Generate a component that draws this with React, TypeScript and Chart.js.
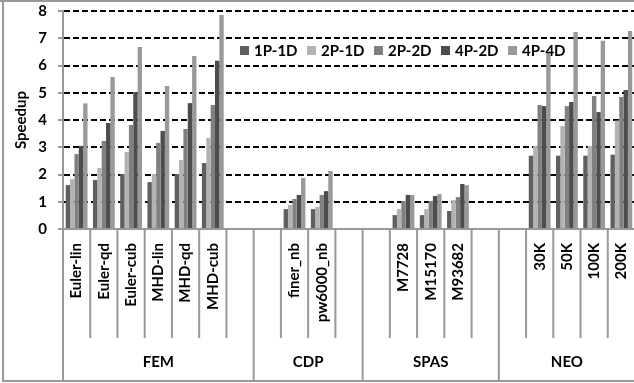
import React, { useEffect, useRef } from 'react';
import { Chart, registerables } from 'chart.js';

Chart.register(...registerables);

const FONT = 'Lato, "Open Sans", sans-serif';

// Benchmark cases along the x axis; empty strings are spacer slots between suites.
const categories = [
  'Euler-lin', 'Euler-qd', 'Euler-cub', 'MHD-lin', 'MHD-qd', 'MHD-cub', '',
  '', 'finer_nb', 'pw6000_nb', '',
  '', 'M7728', 'M15170', 'M93682', '',
  '', '30K', '50K', '100K', '200K',
];

// Suites and how many slots each spans.
const groupNames = ['FEM', 'CDP', 'SPAS', 'NEO'];
const groupSizes = [7, 4, 5, 5];

const seriesNames = ['1P-1D', '2P-1D', '2P-2D', '4P-2D', '4P-4D'];
const seriesColors = ['#5f5f5f', '#b3b3b3', '#808080', '#4d4d4d', '#999999'];

const n = null;
const speedup1P1D = [1.61, 1.80, 2.02, 1.72, 2.02, 2.42, n, n, 0.73, 0.73, n, n, 0.51, 0.51, 0.66, n, n, 2.69, 2.69, 2.69, 2.73];
const speedup2P1D = [1.83, 2.24, 2.83, 2.02, 2.53, 3.34, n, n, 0.88, 0.81, n, n, 0.73, 0.73, 1.06, n, n, 3.05, 3.78, 3.05, 3.98];
const speedup2P2D = [2.75, 3.23, 3.82, 3.16, 3.67, 4.55, n, n, 1.10, 1.25, n, n, 1.03, 1.03, 1.17, n, n, 4.55, 4.51, 4.88, 4.84];
const speedup4P2D = [3.05, 3.89, 5.03, 3.60, 4.62, 6.17, n, n, 1.25, 1.39, n, n, 1.25, 1.21, 1.65, n, n, 4.51, 4.66, 4.29, 5.10];
const speedup4P4D = [4.61, 5.58, 6.68, 5.25, 6.35, 7.85, n, n, 1.87, 2.13, n, n, 1.25, 1.28, 1.61, n, n, 6.45, 7.23, 6.91, 7.27];

const seriesValues = [speedup1P1D, speedup2P1D, speedup2P2D, speedup4P2D, speedup4P4D];

const LINE_GRAY = '#999999';

// Legend row drawn inside the plot, on top of the bars.
const legendRow = {
  id: 'legendRow',
  afterDatasetsDraw(chart: any) {
    const ctx = chart.ctx;
    ctx.save();
    ctx.font = `bold 15px ${FONT}`;
    ctx.textBaseline = 'middle';
    ctx.textAlign = 'left';
    chart.data.datasets.forEach((ds: any, i: number) => {
      const tx = 254 + i * 67;
      ctx.fillStyle = ds.backgroundColor;
      ctx.fillRect(tx - 14, 46, 9, 9);
      ctx.fillStyle = '#000';
      ctx.fillText(ds.label, tx, 51);
    });
    ctx.restore();
  },
};

// Two-level category axis: slot separators, suite dividers and suite names, plus the outer frame.
const suiteAxis = {
  id: 'suiteAxis',
  afterDraw(chart: any) {
    const ctx = chart.ctx;
    const xs = chart.scales.x;
    const area = chart.chartArea;
    const half = (xs.getPixelForValue(1) - xs.getPixelForValue(0)) / 2;
    const bottom = 381;
    const tickEnd = 338;

    const starts: number[] = [];
    let acc = 0;
    groupSizes.forEach((s) => { starts.push(acc); acc += s; });

    ctx.save();
    ctx.strokeStyle = LINE_GRAY;
    ctx.lineWidth = 2;
    ctx.beginPath();
    for (let i = 0; i <= categories.length; i++) {
      const edge = i === 0 ? area.left : xs.getPixelForValue(i) - half;
      const isGroupEdge = starts.includes(i) || i === categories.length;
      ctx.moveTo(edge, area.bottom);
      ctx.lineTo(edge, isGroupEdge ? bottom : tickEnd);
    }
    // outer frame
    ctx.moveTo(3, 0);
    ctx.lineTo(3, bottom);
    ctx.moveTo(0, 1);
    ctx.lineTo(chart.width, 1);
    ctx.moveTo(2, bottom);
    ctx.lineTo(chart.width, bottom);
    ctx.stroke();

    ctx.fillStyle = '#000';
    ctx.font = `bold 15px ${FONT}`;
    ctx.textAlign = 'center';
    ctx.textBaseline = 'middle';
    groupNames.forEach((name, g) => {
      const a = xs.getPixelForValue(starts[g]) - half;
      const b = xs.getPixelForValue(starts[g] + groupSizes[g] - 1) + half;
      ctx.fillText(name, (a + b) / 2, 362);
    });
    ctx.restore();
  },
};

export default function App() {
  const ref = useRef<HTMLCanvasElement>(null);

  useEffect(() => {
    const chart = new Chart(ref.current as HTMLCanvasElement, {
      type: 'bar',
      data: {
        labels: categories,
        datasets: seriesNames.map((name, i) => ({
          label: name,
          data: seriesValues[i],
          backgroundColor: seriesColors[i],
          borderWidth: 0,
          categoryPercentage: 0.8,
          barPercentage: 1,
        })),
      },
      options: {
        responsive: false,
        animation: false,
        devicePixelRatio: 1,
        layout: { padding: { top: 11, right: 5, bottom: 0, left: 0 } },
        plugins: {
          legend: { display: false },
          tooltip: { enabled: false },
        },
        scales: {
          x: {
            grid: { display: false, drawTicks: false },
            border: { display: true, color: LINE_GRAY, width: 2 },
            ticks: {
              autoSkip: false,
              minRotation: 90,
              maxRotation: 90,
              padding: 14,
              color: '#000',
              font: { family: FONT, size: 15, weight: 'bold' },
            },
            afterFit: (s: any) => {
              s.height = 154;
              s.paddingLeft = 0;
              s.paddingRight = 0;
            },
          },
          y: {
            min: 0,
            max: 8,
            ticks: {
              stepSize: 1,
              padding: 11,
              color: '#000',
              font: { family: FONT, size: 15, weight: 'bold' },
            },
            grid: {
              color: (c: any) => (c.tick && c.tick.value === 0 ? 'rgba(0,0,0,0)' : '#000'),
              lineWidth: 2,
              tickColor: LINE_GRAY,
              tickLength: 5,
              tickWidth: 2,
            },
            border: { display: true, color: LINE_GRAY, width: 2, dash: [6, 3] },
            title: {
              display: true,
              text: 'Speedup',
              color: '#000',
              font: { family: FONT, size: 15, weight: 'bold' },
              padding: { top: 12, bottom: 0 },
            },
            afterFit: (s: any) => {
              s.width = 63;
              s.paddingTop = 0;
              s.paddingBottom = 0;
            },
          },
        },
      } as any,
      plugins: [legendRow, suiteAxis],
    });
    return () => chart.destroy();
  }, []);

  return (
    <div style={{ position: 'absolute', left: 0, top: 0, width: 634, height: 383, overflow: 'hidden', background: '#fff' }}>
      <canvas ref={ref} width={640} height={383} style={{ display: 'block', width: 640, height: 383 }} />
    </div>
  );
}
